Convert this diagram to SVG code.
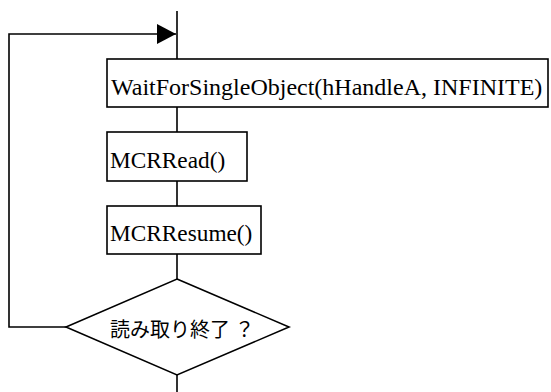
<svg xmlns="http://www.w3.org/2000/svg" width="551" height="392" viewBox="0 0 551 392">
<style>
.box{fill:#fff;stroke:#000;stroke-width:1.6}
.ln{fill:none;stroke:#000;stroke-width:1.6}
.lat{font-family:'Times New Roman','Liberation Serif',serif}
</style>
<defs>
<marker id="ah" markerUnits="userSpaceOnUse" markerWidth="20" markerHeight="20" refX="19" refY="10" orient="auto">
<path d="M0,0 L19,10 L0,20 Z" fill="#000"/>
</marker>
</defs>
<g id="connectors">
<path class="ln" d="M177,11 V60 M177,107 V132 M177,181 V206 M177,254 V279 M177,375 V392"/>
<path class="ln" d="M66,327 H9 V34 H176" marker-end="url(#ah)"/>
</g>
<g id="wait">
<rect class="box" x="107" y="59" width="441" height="48"/>
<text class="lat" x="111" y="95" font-size="24">WaitForSingleObject(hHandleA, INFINITE)</text>
</g>
<g id="read">
<rect class="box" x="107" y="132" width="140" height="49"/>
<text class="lat" x="110" y="168" font-size="23.3">MCRRead()</text>
</g>
<g id="resume">
<rect class="box" x="107" y="206" width="154" height="48"/>
<text class="lat" x="110" y="241" font-size="23.3">MCRResume()</text>
</g>
<g id="decision">
<polygon class="box" points="177,279 289,327 177,375 66,327"/>
<text x="110" y="337" font-family="'Noto Sans CJK JP', sans-serif" font-size="20">読み取り終了 ？</text>
</g>
</svg>
